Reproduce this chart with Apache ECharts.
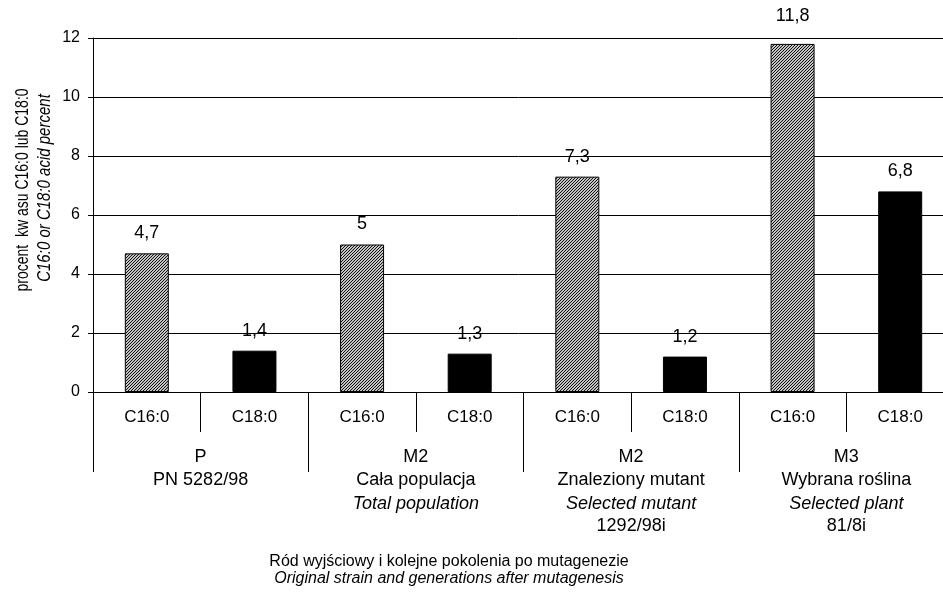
<!DOCTYPE html>
<html>
<head>
<meta charset="utf-8">
<script src="https://cdn.jsdelivr.net/npm/echarts@6/dist/echarts.min.js"></script>
<style>
  html, body { margin: 0; padding: 0; background: #fff; }
  #main { width: 943px; height: 593px; }
</style>
</head>
<body>
<div id="main"></div>
<script>
// dane
var categories = ['C16:0', 'C18:0', 'C16:0', 'C18:0', 'C16:0', 'C18:0', 'C16:0', 'C18:0'];
var values = [4.7, 1.4, 5, 1.3, 7.3, 1.2, 11.8, 6.8];
var groups = [
    'P\nPN 5282/98',
    'M2\nCała populacja\n{i|Total population}',
    'M2\nZnaleziony mutant\n{i|Selected mutant}\n1292/98i',
    'M3\nWybrana roślina\n{i|Selected plant}\n81/8i'
];
var yTicks = [0, 2, 4, 6, 8, 10, 12];

var font = '"Liberation Sans", Arial, sans-serif';

// kreskowanie dla C16:0
var pc = document.createElement('canvas');
pc.width = 3; pc.height = 3;
var ctx = pc.getContext('2d');
ctx.fillStyle = '#c4c4c4';
ctx.fillRect(0, 0, 3, 3);
ctx.fillStyle = '#111';
for (var k = 0; k < 3; k++) {
    ctx.fillRect(k, 2 - k, 1, 1);
}
var hatch = { image: pc, repeat: 'repeat' };

var barData = values.map(function (v, i) {
    var item = {
        value: v,
        itemStyle: {
            color: i % 2 === 0 ? hatch : '#000',
            borderColor: '#000',
            borderWidth: 1
        }
    };
    if (i === 6) item.label = { distance: 19 };
    return item;
});

var myChart = echarts.init(document.getElementById('main'));

var option = {
    backgroundColor: '#fff',
    animation: false,
    textStyle: { fontFamily: font },
    grid: { left: 93, top: 38, width: 861, height: 354, outerBoundsMode: 'none', containLabel: false },
    xAxis: [
        {
            type: 'category',
            data: categories,
            position: 'bottom',
            axisLine: { lineStyle: { color: '#000', width: 1 } },
            axisTick: { show: true, interval: 0, length: 40, lineStyle: { color: '#000' } },
            axisLabel: { interval: 0, margin: 17, fontSize: 17, color: '#000', fontFamily: font }
        },
        {
            type: 'category',
            data: groups,
            position: 'bottom',
            axisLine: { show: false },
            axisTick: { show: true, interval: 0, length: 80, lineStyle: { color: '#000' } },
            axisLabel: {
                interval: 0, margin: 54, fontSize: 18, lineHeight: 23, color: '#000', fontFamily: font,
                rich: {
                    i: { fontStyle: 'italic', fontSize: 18, lineHeight: 23, color: '#000', fontFamily: font }
                }
            }
        }
    ],
    yAxis: {
        type: 'value',
        min: yTicks[0],
        max: yTicks[yTicks.length - 1],
        interval: 2,
        axisLine: { show: true, lineStyle: { color: '#000' } },
        axisTick: { show: true, length: 5, lineStyle: { color: '#000' } },
        axisLabel: { margin: 13, fontSize: 16, color: '#000', fontFamily: font },
        splitLine: { show: true, lineStyle: { color: '#000', width: 1 } }
    },
    series: [
        {
            type: 'bar',
            xAxisIndex: 0,
            data: barData,
            barWidth: 44,
            label: {
                show: true,
                position: 'top',
                distance: 11,
                fontSize: 18,
                color: '#000',
                fontFamily: font,
                formatter: function (p) { return String(p.value).replace('.', ','); }
            }
        }
    ],
    graphic: [
        {
            type: 'text', x: 23, y: 190, rotation: Math.PI / 2, scaleY: 1.25,
            style: { text: 'procent  kw asu C16:0 lub C18:0', font: '14px ' + font, fill: '#000', align: 'center', verticalAlign: 'middle' }
        },
        {
            type: 'text', x: 45, y: 188, rotation: Math.PI / 2, scaleY: 1.25,
            style: { text: 'C16:0 or C18:0 acid percent', font: 'italic 15px ' + font, fill: '#000', align: 'center', verticalAlign: 'middle' }
        },
        {
            type: 'text', x: 449, y: 562,
            style: { text: 'Ród wyjściowy i kolejne pokolenia po mutagenezie', font: '16px ' + font, fill: '#000', align: 'center', verticalAlign: 'middle' }
        },
        {
            type: 'text', x: 449, y: 579,
            style: { text: 'Original strain and generations after mutagenesis', font: 'italic 16px ' + font, fill: '#000', align: 'center', verticalAlign: 'middle' }
        }
    ]
};

myChart.setOption(option);
</script>
</body>
</html>
